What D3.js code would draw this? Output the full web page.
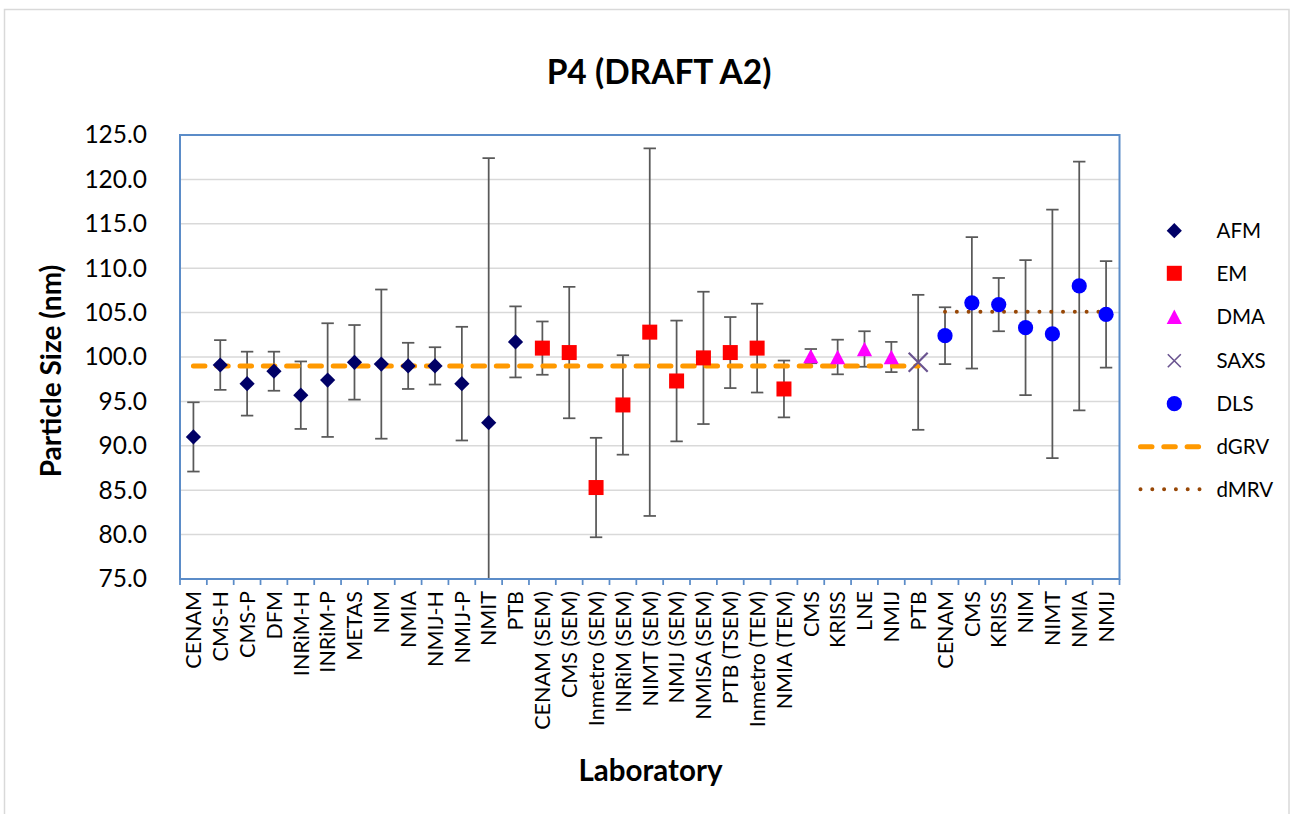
<!DOCTYPE html>
<html><head><meta charset="utf-8">
<script src="https://cdn.jsdelivr.net/npm/d3@7"></script>
<style>
html,body{margin:0;padding:0;background:#fff;}
svg{display:block;font-family:Lato,"Open Sans",sans-serif;}
</style></head>
<body>
<svg id="chart" width="1293" height="814"></svg>
<script>
// ---------------- DATA ----------------
const chartTitle = "P4 (DRAFT A2)";
const xTitle = "Laboratory";
const yTitle = "Particle Size (nm)";

const afmLabels = ["CENAM","CMS-H","CMS-P","DFM","INRiM-H","INRiM-P","METAS","NIM","NMIA","NMIJ-H","NMIJ-P","NMIT","PTB"];
const afmValues = [91.0, 99.1, 97.0, 98.4, 95.7, 97.4, 99.4, 99.2, 99.0, 99.0, 97.0, 92.6, 101.7];
const afmErrors = [3.9, 2.8, 3.6, 2.2, 3.8, 6.4, 4.2, 8.4, 2.6, 2.1, 6.4, 29.8, 4.0];

const emLabels = ["CENAM (SEM)","CMS (SEM)","Inmetro (SEM)","INRiM (SEM)","NIMT (SEM)","NMIJ (SEM)","NMISA (SEM)","PTB (TSEM)","Inmetro (TEM)","NMIA (TEM)"];
const emValues = [101.0, 100.5, 85.3, 94.6, 102.8, 97.3, 99.9, 100.5, 101.0, 96.4];
const emErrors = [3.0, 7.4, 5.6, 5.6, 20.7, 6.8, 7.45, 4.0, 5.0, 3.2];

const dmaLabels = ["CMS","KRISS","LNE","NMIJ"];
const dmaValues = [100.1, 100.0, 100.9, 100.0];
const dmaErrors = [0.8, 1.95, 2.0, 1.7];

const saxsLabels = ["PTB"];
const saxsValues = [99.4];
const saxsErrors = [7.6];

const dlsLabels = ["CENAM","CMS","KRISS","NIM","NIMT","NMIA","NMIJ"];
const dlsValues = [102.4, 106.1, 105.9, 103.3, 102.6, 108.0, 104.8];
const dlsErrors = [3.2, 7.4, 3.0, 7.6, 14.0, 14.0, 6.0];

const dGRV = 99.0;   // spans AFM..SAXS
const dMRV = 105.1;  // spans DLS

const yTicks = [75, 80, 85, 90, 95, 100, 105, 110, 115, 120, 125];
const yDomain = [75, 125];

// ---------------- BUILD ----------------
const seriesDefs = [
  {name:"AFM",  labels:afmLabels,  values:afmValues,  errors:afmErrors,  shape:"diamond",  color:"#000066"},
  {name:"EM",   labels:emLabels,   values:emValues,   errors:emErrors,   shape:"square",   color:"#FF0000"},
  {name:"DMA",  labels:dmaLabels,  values:dmaValues,  errors:dmaErrors,  shape:"triangle", color:"#FF00FF"},
  {name:"SAXS", labels:saxsLabels, values:saxsValues, errors:saxsErrors, shape:"x",        color:"#6A5490"},
  {name:"DLS",  labels:dlsLabels,  values:dlsValues,  errors:dlsErrors,  shape:"circle",   color:"#0000FF"}
];

const cats = [];
const points = [];
seriesDefs.forEach(s => {
  s.labels.forEach((lab, i) => {
    const key = cats.length;
    cats.push({key, label: lab});
    points.push({key, value: s.values[i], err: s.errors[i], series: s});
  });
});

const svg = d3.select("#chart");
const plot = {left:180, right:1119.5, top:135, bottom:579};

// outer chart border
svg.append("rect").attr("x",4.5).attr("y",9.5).attr("width",1284.5).attr("height",820)
  .attr("fill","#fff").attr("stroke","#D9D9D9").attr("stroke-width",1.5);

const x = d3.scaleBand().domain(cats.map(c=>c.key)).range([plot.left, plot.right]).paddingInner(0).paddingOuter(0);
const y = d3.scaleLinear().domain(yDomain).range([plot.bottom, plot.top]);
const cx = k => x(k) + x.bandwidth()/2;

// gridlines
svg.append("g").selectAll("line").data(yTicks.filter(t=>t>yDomain[0] && t<yDomain[1])).join("line")
  .attr("x1",plot.left).attr("x2",plot.right)
  .attr("y1",d=>y(d)).attr("y2",d=>y(d))
  .attr("stroke","#D9D9D9").attr("stroke-width",1.5);

// y axis labels
const yAxis = d3.axisLeft(y).tickValues(yTicks).tickFormat(d3.format(".1f")).tickSize(0).tickPadding(33);
const gy = svg.append("g").attr("transform",`translate(${plot.left},0)`).call(yAxis);
gy.select(".domain").remove();
gy.selectAll("text").attr("font-size",24.5).attr("fill","#000").attr("font-family","Lato");

// x axis ticks & labels
const xAxis = d3.axisBottom(x).tickSize(0).tickFormat(k=>cats[k].label);
const gx = svg.append("g").attr("transform",`translate(0,${plot.bottom})`).call(xAxis);
gx.select(".domain").remove();
gx.selectAll(".tick text")
  .attr("transform","rotate(-90)")
  .attr("text-anchor","end")
  .attr("x",-12).attr("y",0).attr("dy","0.36em")
  .attr("font-size",21.5).attr("fill","#000").attr("font-family","Lato");
// boundary tick marks
const boundaries = d3.range(cats.length+1).map(i => plot.left + i*x.bandwidth());
svg.append("g").selectAll("line").data(boundaries).join("line")
  .attr("x1",d=>d).attr("x2",d=>d).attr("y1",plot.bottom).attr("y2",plot.bottom+6)
  .attr("stroke","#5B8CC8").attr("stroke-width",1.75);

// clip
svg.append("clipPath").attr("id","clip").append("rect")
  .attr("x",plot.left).attr("y",plot.top).attr("width",plot.right-plot.left).attr("height",plot.bottom-plot.top);

const gPlot = svg.append("g").attr("clip-path","url(#clip)");

// error bars
const capW = 6.2;
const eb = gPlot.append("g").attr("stroke","#595959").attr("stroke-width",1.75).attr("fill","none");
points.forEach(p => {
  const xc = cx(p.key), yt = y(p.value + p.err), yb = y(p.value - p.err);
  eb.append("line").attr("x1",xc).attr("x2",xc).attr("y1",yt).attr("y2",yb);
  eb.append("line").attr("x1",xc-capW).attr("x2",xc+capW).attr("y1",yt).attr("y2",yt);
  eb.append("line").attr("x1",xc-capW).attr("x2",xc+capW).attr("y1",yb).attr("y2",yb);
});

// reference lines
const grvKeys = points.filter(p => p.series.name !== "DLS").map(p=>p.key);
const mrvKeys = points.filter(p => p.series.name === "DLS").map(p=>p.key);
const line = d3.line().x(d=>cx(d.k)).y(d=>y(d.v));
gPlot.append("path").datum([{k:grvKeys[0],v:dGRV},{k:grvKeys[grvKeys.length-1],v:dGRV}])
  .attr("d",line).attr("fill","none").attr("stroke","#FF9900").attr("stroke-width",5)
  .attr("stroke-linecap","round").attr("stroke-dasharray","11.5,11.8");
gPlot.append("path").datum([{k:mrvKeys[0],v:dMRV},{k:mrvKeys[mrvKeys.length-1],v:dMRV}])
  .attr("d",line).attr("fill","none").attr("stroke","#974706").attr("stroke-width",4)
  .attr("stroke-linecap","round").attr("stroke-dasharray","0,11.8");

// markers
function drawMarker(g, shape, color, xc, yc, legend){
  if(shape==="diamond"){
    const h=7.6;
    g.append("path").attr("d",`M${xc},${yc-h}L${xc+h},${yc}L${xc},${yc+h}L${xc-h},${yc}Z`).attr("fill",color);
  } else if(shape==="square"){
    const h=7.5;
    g.append("rect").attr("x",xc-h).attr("y",yc-h).attr("width",2*h).attr("height",2*h).attr("fill",color);
  } else if(shape==="triangle"){
    const w=7.6, h=7.2;
    g.append("path").attr("d",`M${xc},${yc-h}L${xc+w},${yc+h}L${xc-w},${yc+h}Z`).attr("fill",color);
  } else if(shape==="circle"){
    g.append("circle").attr("cx",xc).attr("cy",yc).attr("r",7.6).attr("fill",color);
  } else if(shape==="x"){
    const h = legend ? 6.5 : 9.5;
    g.append("path").attr("d",`M${xc-h},${yc-h}L${xc+h},${yc+h}M${xc-h},${yc+h}L${xc+h},${yc-h}`)
      .attr("stroke",color).attr("stroke-width",legend?1.6:2.2).attr("fill","none");
  }
}
const gm = gPlot.append("g");
points.forEach(p => drawMarker(gm, p.series.shape, p.series.color, cx(p.key), y(p.value), false));

// plot border
svg.append("rect").attr("x",plot.left).attr("y",plot.top)
  .attr("width",plot.right-plot.left).attr("height",plot.bottom-plot.top)
  .attr("fill","none").attr("stroke","#5B8CC8").attr("stroke-width",2);

// titles
svg.append("text").attr("x",659).attr("y",84).attr("text-anchor","middle")
  .attr("font-size",33.5).attr("font-weight","bold").attr("font-family","Lato").text(chartTitle);
svg.append("text").attr("x",650.5).attr("y",781).attr("text-anchor","middle")
  .attr("font-size",29.5).attr("font-weight","bold").attr("font-family","Lato").text(xTitle);
svg.append("text").attr("transform","translate(61,371) rotate(-90)").attr("text-anchor","middle")
  .attr("font-size",28).attr("font-weight","bold").attr("font-family","Lato").text(yTitle);

// legend
const legendRows = [
  ...seriesDefs.map(s=>({name:s.name, kind:"marker", s})),
  {name:"dGRV", kind:"line", color:"#FF9900", width:5, dash:"11.5,11.8"},
  {name:"dMRV", kind:"line", color:"#974706", width:4, dash:"0,11.8"}
];
const legendY = [230.7, 273.3, 316.7, 360.7, 403.7, 446.7, 489.3];
const gl = svg.append("g");
legendRows.forEach((r,i) => {
  const yy = legendY[i];
  if(r.kind==="marker"){
    drawMarker(gl, r.s.shape, r.s.color, 1174.3, yy, true);
  } else {
    gl.append("line").attr("x1",1140.5).attr("x2",1208).attr("y1",yy).attr("y2",yy)
      .attr("stroke",r.color).attr("stroke-width",r.width).attr("stroke-linecap","round")
      .attr("stroke-dasharray",r.dash);
  }
  gl.append("text").attr("x",1216.5).attr("y",yy).attr("dy","0.36em")
    .attr("font-size",20.5).attr("font-family","Lato").attr("fill","#000").text(r.name);
});
</script>
</body></html>
